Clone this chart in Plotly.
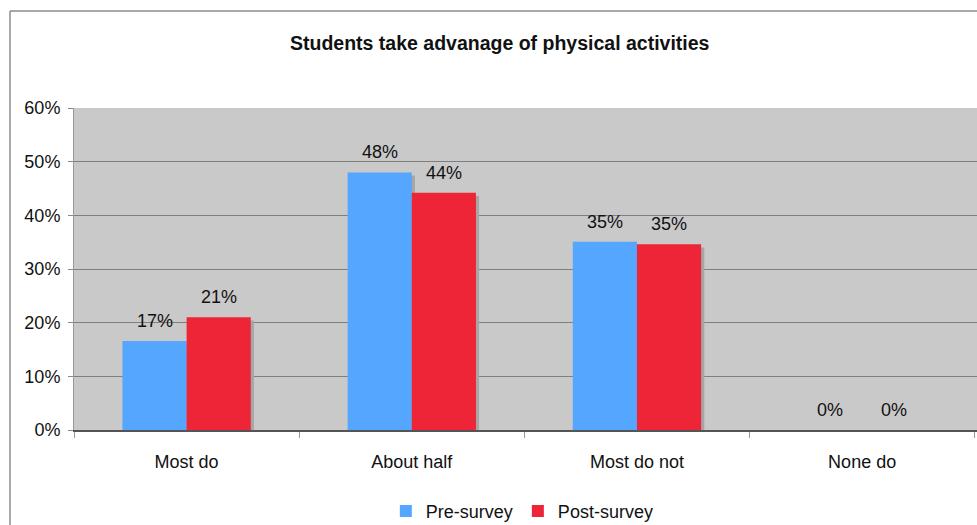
import plotly.graph_objects as go

# Survey answers and percentages
categories = ["Most do", "About half", "Most do not", "None do"]
pre_survey = [16.6, 48.0, 35.1, 0.0]
post_survey = [21.0, 44.2, 34.6, 0.0]
y_ticks = [0, 10, 20, 30, 40, 50, 60]
y_tick_labels = [f"{v}%" for v in y_ticks]

BLUE = "#55A6FF"
RED = "#EE2537"
SHADOW = "#A6A6A6"
PLOT_BG = "#C9C9C9"
FONT = "Liberation Sans, Arial, sans-serif"

BAR_W = 0.285          # width of one bar in category units
SH_DX = 0.014          # shadow shift to the right (category units)
SH_DY = 0.6            # shadow drop (percentage points)

fig = go.Figure()

# soft drop shadows behind each bar
for vals, off in ((pre_survey, -BAR_W), (post_survey, 0.0)):
    fig.add_trace(go.Bar(
        x=categories,
        y=[max(v - SH_DY, 0) for v in vals],
        width=BAR_W, offset=off + SH_DX,
        marker=dict(color=SHADOW, line=dict(width=0)),
        showlegend=False, hoverinfo="skip",
    ))

series = [("Pre-survey", pre_survey, BLUE, -BAR_W), ("Post-survey", post_survey, RED, 0.0)]
annotations = []
for name, vals, color, off in series:
    fig.add_trace(go.Bar(
        name=name, x=categories, y=vals,
        width=BAR_W, offset=off,
        marker=dict(color=color, line=dict(width=0)),
    ))
    # value labels above each bar
    for i, v in enumerate(vals):
        annotations.append(dict(
            x=i + off + BAR_W / 2, y=v, xref="x", yref="y",
            text=f"{v:.0f}%", showarrow=False,
            yanchor="middle", yshift=20,
            font=dict(size=18, color="#111111", family=FONT),
        ))

frame_x = (10 - 74) / 903
frame_y = (525 - 95 - 11) / 322

fig.update_layout(
    width=977, height=525,
    margin=dict(l=74, r=0, t=108, b=95, autoexpand=False),
    paper_bgcolor="white",
    plot_bgcolor=PLOT_BG,
    barmode="overlay",
    font=dict(family=FONT, size=18, color="#111111"),
    title=dict(
        text="<b>Students take advanage of physical activities</b>",
        x=0.5115, xanchor="center", y=0.918, yanchor="middle",
        font=dict(family=FONT, size=19.5, color="#111111"),
    ),
    showlegend=True,
    legend=dict(
        orientation="h", x=0.4965, xanchor="center", y=-0.195, yanchor="top",
        font=dict(size=18, family=FONT, color="#111111"),
        traceorder="normal", itemwidth=30,
        bgcolor="rgba(0,0,0,0)",
    ),
    annotations=annotations,
    xaxis=dict(
        type="category", range=[-0.5, 3.51],
        tickson="boundaries", ticks="outside", ticklen=6, tickcolor="#999999",
        ticklabelstandoff=14,
        showline=True, linecolor="#555555", linewidth=2,
        showgrid=False, tickfont=dict(size=18),
    ),
    yaxis=dict(
        range=[0, 60], tickvals=y_ticks, ticktext=y_tick_labels,
        ticks="outside", ticklen=5, tickcolor="#888888",
        ticklabelstandoff=4,
        showline=True, linecolor="#999999", linewidth=1,
        showgrid=True, gridcolor="#7F7F7F", gridwidth=1,
        zeroline=False, tickfont=dict(size=18),
    ),
    shapes=[
        # outer chart frame
        dict(type="line", xref="paper", yref="paper",
             x0=frame_x, x1=1.2, y0=frame_y, y1=frame_y,
             line=dict(color="#8C8C8C", width=1.5)),
        dict(type="line", xref="paper", yref="paper",
             x0=frame_x, x1=frame_x, y0=-1, y1=frame_y,
             line=dict(color="#8C8C8C", width=1.5)),
    ],
)

fig.write_html("out.html")
